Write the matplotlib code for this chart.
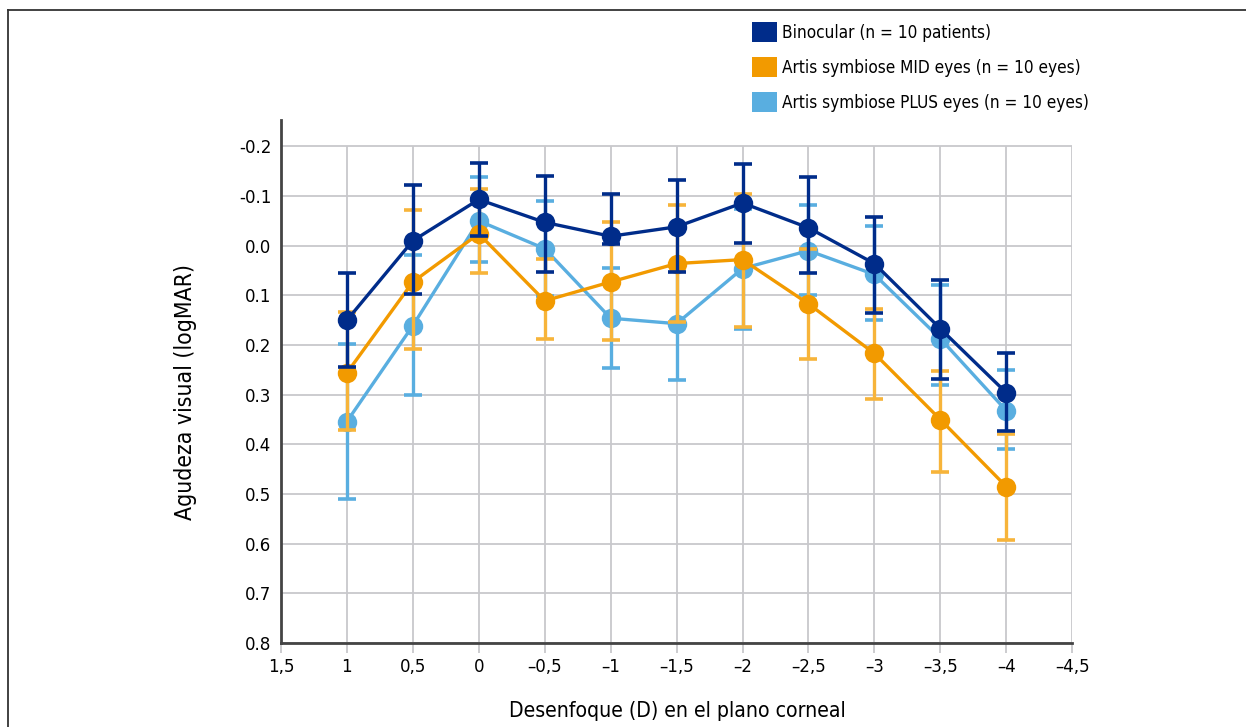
import numpy as np
import matplotlib
matplotlib.use("Agg")
import matplotlib.pyplot as plt
from matplotlib import font_manager
from matplotlib.lines import Line2D
from matplotlib.patches import Patch

# buscar una fuente estrecha si existe
narrow = None
for f in font_manager.fontManager.ttflist:
    if f.style == 'normal' and f.weight in (400, 'normal', 'regular') and \
            f.stretch in ('condensed', 'semi-condensed', 'extra-condensed'):
        narrow = f.name
        narrow_stretch = f.stretch
        break
if narrow is None:
    for f in font_manager.fontManager.ttflist:
        if 'Narrow' in f.name or 'Condensed' in f.name:
            narrow = f.name
            narrow_stretch = f.stretch
            break

if narrow:
    plt.rcParams['font.family'] = [narrow, 'Liberation Sans', 'DejaVu Sans']
    plt.rcParams['font.stretch'] = narrow_stretch
    scale = 0.95
else:
    plt.rcParams['font.family'] = ['Liberation Sans', 'DejaVu Sans']
    scale = 0.9

# Desenfoque (D) y agudeza visual media (logMAR)
defocus = [1, 0.5, 0, -0.5, -1, -1.5, -2, -2.5, -3, -3.5, -4]

bino = [0.150, -0.010, -0.093, -0.047, -0.019, -0.038, -0.086, -0.036, 0.036, 0.167, 0.296]
bino_err_up = [0.095, 0.113, 0.074, 0.094, 0.086, 0.094, 0.079, 0.103, 0.094, 0.097, 0.079]
bino_err_down = [0.095, 0.107, 0.074, 0.099, 0.015, 0.090, 0.080, 0.090, 0.099, 0.101, 0.078]

mid = [0.256, 0.073, -0.024, 0.111, 0.073, 0.036, 0.028, 0.117, 0.217, 0.350, 0.485]
mid_err_up = [0.123, 0.145, 0.091, 0.085, 0.120, 0.118, 0.133, 0.111, 0.090, 0.098, 0.105]
mid_err_down = [0.116, 0.134, 0.078, 0.076, 0.117, 0.118, 0.135, 0.111, 0.091, 0.105, 0.107]

plus = [0.354, 0.161, -0.050, 0.006, 0.146, 0.157, 0.046, 0.010, 0.058, 0.187, 0.332]
plus_err_up = [0.157, 0.143, 0.089, 0.096, 0.101, 0.117, 0.120, 0.092, 0.098, 0.107, 0.082]
plus_err_down = [0.156, 0.139, 0.082, 0.096, 0.100, 0.113, 0.121, 0.089, 0.091, 0.093, 0.078]

labels = ["Binocular (n = 10 patients)",
          "Artis symbiose MID eyes (n = 10 eyes)",
          "Artis symbiose PLUS eyes (n = 10 eyes)"]

x_ticks = [1.5, 1, 0.5, 0, -0.5, -1, -1.5, -2, -2.5, -3, -3.5, -4, -4.5]
x_ticklabels = ["1,5", "1", "0,5", "0", "\u20130,5", "\u20131", "\u20131,5", "\u20132",
                "\u20132,5", "\u20133", "\u20133,5", "\u20134", "\u20134,5"]
y_ticks = [-0.2, -0.1, 0.0, 0.1, 0.2, 0.3, 0.4, 0.5, 0.6, 0.7, 0.8]
y_ticklabels = ["-0.2", "-0.1", "0.0", "0.1", "0.2", "0.3", "0.4", "0.5", "0.6", "0.7", "0.8"]

c_bino = '#002C8A'
c_mid = '#F29A00'
c_mid_err = '#F7B43A'
c_plus = '#59AEE0'
grid_c = '#C8C8CC'

fig = plt.figure(figsize=(12.46, 7.27), dpi=100)
ax = fig.add_axes([0.2255, 0.1155, 0.635, 0.7194])

ax.set_xlim(1.5, -4.5)
ax.set_ylim(0.8, -0.253)

# rejilla
for yv in y_ticks:
    ax.axhline(yv, color=grid_c, lw=1.3, zorder=0)
ax.vlines(x_ticks, -0.2, 0.8, color=grid_c, lw=1.3, zorder=0)

series = [
    (plus, plus_err_up, plus_err_down, c_plus, c_plus, 2),
    (mid, mid_err_up, mid_err_down, c_mid, c_mid_err, 3),
    (bino, bino_err_up, bino_err_down, c_bino, c_bino, 4),
]
for vals, eu, ed, col, ecol, z in series:
    ax.errorbar(defocus, vals, yerr=[eu, ed], fmt='none', ecolor=ecol,
                elinewidth=2.4, capsize=6.5, capthick=2.6, zorder=z)
    ax.plot(defocus, vals, color=col, lw=2.4, marker='o', markersize=14,
            markeredgewidth=0, zorder=z + 0.5)

ax.set_xticks(x_ticks)
ax.set_xticklabels(x_ticklabels, fontsize=14 * scale)
ax.set_yticks(y_ticks)
ax.set_yticklabels(y_ticklabels, fontsize=14 * scale)
ax.tick_params(axis='y', length=0, pad=7)
ax.tick_params(axis='x', length=7, width=1.3, color=grid_c, pad=4)

for s in ['top', 'right']:
    ax.spines[s].set_visible(False)
for s in ['left', 'bottom']:
    ax.spines[s].set_color('#444444')
    ax.spines[s].set_linewidth(2)

ax.set_xlabel("Desenfoque (D) en el plano corneal", fontsize=16 * scale)
ax.set_ylabel("Agudeza visual (logMAR)", fontsize=16.5 * scale * 1.05)
ax.xaxis.set_label_coords(0.5006, -0.111)
ax.yaxis.set_label_coords(-0.106, 0.48)

handles = [Patch(facecolor=c_bino), Patch(facecolor=c_mid), Patch(facecolor=c_plus)]
fig.legend(handles, labels, loc='upper left', bbox_to_anchor=(0.6035, 0.970),
           frameon=False, fontsize=13 * scale, handlelength=1.46, handleheight=1.46,
           handletextpad=0.3, labelspacing=0.84, borderaxespad=0, borderpad=0)

# marco de la figura (arriba e izquierda)
fig.add_artist(Line2D([0.0065, 1.0], [0.986, 0.986], color='#333333', lw=1.3,
                      transform=fig.transFigure))
fig.add_artist(Line2D([0.0065, 0.0065], [0.0, 0.986], color='#333333', lw=1.3,
                      transform=fig.transFigure))

fig.savefig("out.png", dpi=100)
